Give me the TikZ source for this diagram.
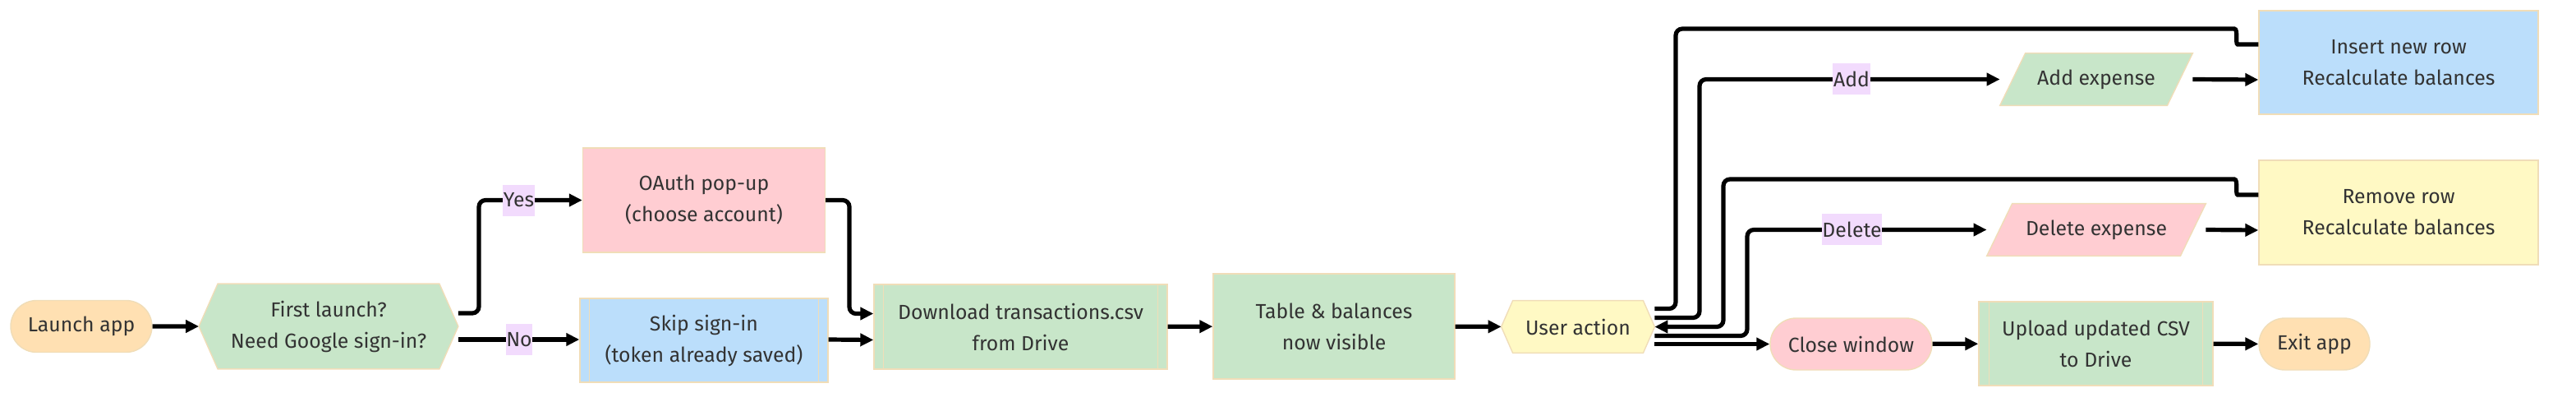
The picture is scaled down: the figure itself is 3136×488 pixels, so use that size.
\documentclass[tikz,border=0pt]{standalone}
\usepackage{fontspec}
\setmainfont{Fira Sans}
\usetikzlibrary{arrows.meta,shapes.misc,calc,backgrounds}
\definecolor{cpeach}{HTML}{FFE0B2}
\definecolor{cgreen}{HTML}{C8E6C9}
\definecolor{cpink}{HTML}{FFCDD2}
\definecolor{cblue}{HTML}{BBDEFB}
\definecolor{cyellow}{HTML}{FFF9C4}
\definecolor{clabel}{HTML}{F2DBFD}
\definecolor{cborder}{HTML}{F0DDB8}
\definecolor{ctext}{HTML}{333333}
\begin{document}
\begin{tikzpicture}[x=0.5pt,y=-0.5pt,
  font=\fontsize{12.4}{19}\selectfont, text=ctext,
  box/.style={rectangle, draw=cborder, line width=0.7pt, align=center, inner sep=0pt},
  stad/.style={rounded rectangle, draw=cborder, line width=0.7pt, inner sep=0pt, align=center},
  txt/.style={rectangle, inner sep=0pt, align=center},
  shp/.style={draw=cborder, line width=0.7pt},
  sub/.style={draw=cborder, line width=0.7pt},
  edge/.style={line width=2.6pt, -{Triangle[length=8pt,width=7.5pt]}, rounded corners=4pt},
  noarr/.style={line width=2.6pt, rounded corners=4pt},
  lbl/.style={fill=clabel, inner xsep=0.3pt, inner ysep=0pt, minimum height=19pt}]
\useasboundingbox (0,0) rectangle (3136,488);

% nodes
\node[stad, fill=cpeach, minimum width=86pt, minimum height=31.5pt] (LA) at (99,397) {Launch app};
\node[txt, minimum width=157.5pt, minimum height=51.5pt] (FL) at (400,397) {First launch?\\Need Google sign-in?};
\node[box, fill=cpink, minimum width=147.5pt, minimum height=63.5pt] (OA) at (857,243.5) {OAuth pop-up\\(choose account)};
\node[box, fill=cblue, minimum width=151pt, minimum height=51pt] (SK) at (857,414) {Skip sign-in\\(token already saved)};
\node[box, fill=cgreen, minimum width=178.5pt, minimum height=51.5pt] (DL) at (1242.5,397.5) {Download transactions.csv\\from Drive};
\node[box, fill=cgreen, minimum width=147pt, minimum height=64pt] (TB) at (1624,397) {Table \& balances\\now visible};
\node[txt, minimum width=93pt, minimum height=31.5pt] (UA) at (1921,397.5) {User action};
\node[txt, minimum width=117pt, minimum height=31.5pt] (AE) at (2552,96.5) {Add expense};
\node[box, fill=cblue, minimum width=170pt, minimum height=63pt] (IN) at (2920,76) {Insert new row\\Recalculate balances};
\node[txt, minimum width=133pt, minimum height=31.5pt] (DE) at (2552,279.5) {Delete expense};
\node[box, fill=cyellow, minimum width=170pt, minimum height=63.5pt] (RM) at (2920,258.5) {Remove row\\Recalculate balances};
\node[stad, fill=cpink, minimum width=98.5pt, minimum height=31.5pt] (CW) at (2253.5,418.5) {Close window};
\node[box, fill=cgreen, minimum width=142.5pt, minimum height=51pt] (UP) at (2551.5,418) {Upload updated CSV\\to Drive};
\node[stad, fill=cpeach, minimum width=67.5pt, minimum height=31.5pt] (EX) at (2817.5,418.5) {Exit app};

% shapes behind text
\begin{scope}[on background layer]
\draw[shp, fill=cgreen] ($(FL.north west)+(23,0)$) -- ($(FL.north east)+(-23,0)$) -- (FL.east) -- ($(FL.south east)+(-23,0)$) -- ($(FL.south west)+(23,0)$) -- (FL.west) -- cycle;
\draw[shp, fill=cyellow] ($(UA.north west)+(14,0)$) -- ($(UA.north east)+(-14,0)$) -- (UA.east) -- ($(UA.south east)+(-14,0)$) -- ($(UA.south west)+(14,0)$) -- (UA.west) -- cycle;
\draw[shp, fill=cgreen] (AE.south west) -- ($(AE.north west)+(31,0)$) -- (AE.north east) -- ($(AE.south east)+(-31,0)$) -- cycle;
\draw[shp, fill=cpink] (DE.south west) -- ($(DE.north west)+(31,0)$) -- (DE.north east) -- ($(DE.south east)+(-31,0)$) -- cycle;
\end{scope}

% subroutine inner lines
\foreach \n/\d in {SK/12, DL/12, UP/13} {
  \draw[sub] ($(\n.north west)+(\d,0)$) -- ($(\n.south west)+(\d,0)$);
  \draw[sub] ($(\n.north east)+(-\d,0)$) -- ($(\n.south east)+(-\d,0)$);
}

% edges
\draw[edge] (LA) -- (FL);
\draw[edge] ($(FL.east)+(0,-16)$) -- (583,381) |- (OA.west);
\draw[edge] ($(FL.east)+(0,16)$) -- ($(SK.west)+(0,-1)$);
\draw[edge] (OA.east) -- (1034,243.5) |- ($(DL.west)+(0,-16)$);
\draw[edge] ($(SK.east)+(0,-1)$) -- ($(DL.west)+(0,16)$);
\draw[edge] (DL) -- (TB);
\draw[edge] (TB) -- (UA);
\draw[edge] ($(UA.east)+(0,-11)$) -- (2069,386.5) |- (AE.west);
\draw[edge] (AE.east) -- ($(IN.west)+(0,21)$);
\draw[noarr] ($(IN.west)+(0,-22)$) -- (2732,54) .. controls (2721,54) and (2725,35) .. (2712,35) -- (2040,35) -- (2040,375.5) -- ($(UA.east)+(0,-22)$);
\draw[edge] ($(UA.east)+(0,11)$) -- (2127,408.5) |- (DE.west);
\draw[edge] (DE.east) -- ($(RM.west)+(0,21.5)$);
\draw[edge] ($(RM.west)+(0,-21.5)$) -- (2732,237) .. controls (2721,237) and (2725,218) .. (2712,218) -- (2098,218) -- (2098,397.5) -- (UA.east);
\draw[edge] ($(UA.east)+(0,21)$) -- (CW.west);
\draw[edge] (CW) -- (UP);
\draw[edge] (UP) -- (EX);

% edge labels
\node[lbl] (lYes) at (631.5,243.5) {Yes};
\node[lbl] (lNo) at (632,413) {No};
\node[lbl] (lAdd) at (2254,96) {Add};
\node[lbl] (lDel) at (2254.5,279) {Delete};
\end{tikzpicture}
\end{document}
